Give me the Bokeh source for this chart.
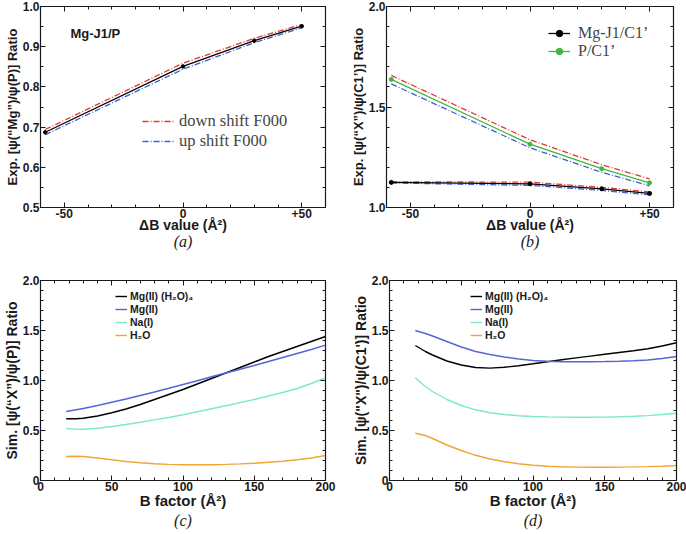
from bokeh.plotting import figure
from bokeh.models import (Range1d, FixedTicker, LinearAxis, Legend, LegendItem, Label, Title,
                          CustomJSTickFormatter)
from bokeh.layouts import column, row
from bokeh.embed import file_html
from bokeh.resources import INLINE

# ---------------- data ----------------
# (a) Mg-J1/P
dB = [-58, 0, 30, 50]
mgp = [0.687, 0.851, 0.915, 0.951]
mgp_down = [0.694, 0.859, 0.921, 0.955]
mgp_up = [0.681, 0.844, 0.910, 0.947]

# (b) X/C1'
mgc = [1.125, 1.118, 1.093, 1.070]
mgc_down = [1.128, 1.126, 1.100, 1.078]
mgc_up = [1.122, 1.110, 1.085, 1.063]
pc1 = [1.637, 1.315, 1.193, 1.123]
pc1_down = [1.657, 1.337, 1.213, 1.142]
pc1_up = [1.615, 1.297, 1.175, 1.108]

# (c), (d) simulations
bfac = [18, 25, 30, 40, 50, 60, 70, 80, 90, 100, 110, 120, 130, 140, 150, 160, 170, 180, 190, 200]
c_mgw = [0.617, 0.618, 0.622, 0.645, 0.677, 0.715, 0.760, 0.810, 0.860, 0.910, 0.965, 1.020,
         1.075, 1.130, 1.185, 1.240, 1.290, 1.340, 1.390, 1.440]
c_mg = [0.690, 0.708, 0.720, 0.750, 0.783, 0.815, 0.850, 0.885, 0.922, 0.960, 0.998, 1.037,
        1.075, 1.113, 1.150, 1.190, 1.230, 1.270, 1.310, 1.353]
c_na = [0.520, 0.514, 0.513, 0.522, 0.540, 0.560, 0.582, 0.606, 0.630, 0.657, 0.687, 0.717,
        0.748, 0.779, 0.810, 0.845, 0.880, 0.920, 0.970, 1.027]
c_w = [0.240, 0.243, 0.240, 0.225, 0.207, 0.190, 0.177, 0.167, 0.161, 0.158, 0.157, 0.158,
       0.161, 0.166, 0.173, 0.182, 0.193, 0.207, 0.225, 0.250]

d_mgw = [1.350, 1.290, 1.255, 1.195, 1.155, 1.130, 1.124, 1.132, 1.148, 1.167, 1.187, 1.207,
         1.226, 1.244, 1.262, 1.280, 1.298, 1.318, 1.345, 1.377]
d_mg = [1.500, 1.470, 1.445, 1.390, 1.335, 1.290, 1.260, 1.235, 1.215, 1.200, 1.192, 1.188,
        1.187, 1.188, 1.190, 1.193, 1.198, 1.205, 1.220, 1.240]
d_na = [1.027, 0.940, 0.890, 0.810, 0.750, 0.707, 0.678, 0.660, 0.648, 0.640, 0.636, 0.634,
        0.633, 0.633, 0.634, 0.637, 0.642, 0.649, 0.660, 0.673]
d_w = [0.473, 0.450, 0.420, 0.355, 0.300, 0.252, 0.215, 0.188, 0.167, 0.152, 0.143, 0.137,
       0.134, 0.133, 0.133, 0.134, 0.136, 0.139, 0.143, 0.150]

SANS = "Liberation Sans"
SERIF = "Liberation Serif"
RED = "#e23a2e"
BLUE = "#3d5fd6"
GREEN = "#3cb83c"
SLATE = "#5566d4"
AQUA = "#7debc0"
ORANGE = "#f2a437"
INK = "#1a1a1a"


def make_fig(width, height, xr, yr, mb):
    p = figure(width=width, height=height, output_backend="svg", toolbar_location=None,
               x_range=Range1d(*xr), y_range=Range1d(*yr),
               min_border_left=mb[0], min_border_right=mb[1],
               min_border_top=mb[2], min_border_bottom=mb[3])
    p.grid.visible = False
    p.outline_line_color = INK
    p.outline_line_width = 1.2
    p.background_fill_color = "white"
    p.border_fill_color = "white"
    return p


def mirror_axis(ticks, minor):
    return LinearAxis(ticker=FixedTicker(ticks=ticks, minor_ticks=minor),
                      formatter=CustomJSTickFormatter(code="return ''"),
                      major_tick_in=5, major_tick_out=0, minor_tick_in=3, minor_tick_out=0,
                      major_label_standoff=0, axis_line_color=INK,
                      major_tick_line_color=INK, minor_tick_line_color=INK)


def style_axes(p, xt, xminor, yt, yminor, xlab, ylab, xoverrides=None, yoverrides=None,
               xlab_size="13px", ylab_size="13px", xlab_standoff=-4):
    xa = p.xaxis[0]
    ya = p.yaxis[0]
    xa.ticker = FixedTicker(ticks=xt, minor_ticks=xminor)
    ya.ticker = FixedTicker(ticks=yt, minor_ticks=yminor)
    for a in (xa, ya):
        a.major_tick_in = 5
        a.major_tick_out = 0
        a.minor_tick_in = 3
        a.minor_tick_out = 0
        a.axis_line_color = INK
        a.major_tick_line_color = INK
        a.minor_tick_line_color = INK
        a.major_label_text_font = SANS
        a.major_label_text_font_style = "bold"
        a.major_label_text_font_size = "12px"
        a.major_label_text_color = INK
        a.axis_label_text_font = SANS
        a.axis_label_text_font_style = "bold"
        a.axis_label_text_color = INK
        a.major_label_standoff = 1
        a.axis_label_standoff = 0
    xa.axis_label_standoff = xlab_standoff
    xa.axis_label = xlab
    ya.axis_label = ylab
    xa.axis_label_text_font_size = xlab_size
    ya.axis_label_text_font_size = ylab_size
    if xoverrides:
        xa.major_label_overrides = xoverrides
    if yoverrides:
        ya.major_label_overrides = yoverrides
    p.add_layout(mirror_axis(xt, xminor), "above")
    p.add_layout(mirror_axis(yt, yminor), "right")


def caption(p, txt, standoff):
    p.add_layout(Title(text=txt, align="center", text_font=SERIF, text_font_style="italic",
                       text_font_size="16px", text_color=INK, standoff=standoff,
                       text_line_height=1.0), "below")


dBticks = [-50, 0, 50]
dBminor = list(range(-60, 61, 10))
dBover = {50: "+50", -50: "-50"}

# ---------------- (a) ----------------
pa = make_fig(343, 262, (-60, 60), (0.5, 1.0), (40, 18, 6, 55))
style_axes(pa, dBticks, dBminor, [0.5, 0.6, 0.7, 0.8, 0.9, 1.0],
           [0.5 + 0.05 * i for i in range(11)], "ΔB value (Å²)",
           "Exp. [ψ(“Mg”)/ψ(P)] Ratio", xoverrides=dBover,
           yoverrides={0.5: "0.5", 0.6: "0.6", 0.7: "0.7", 0.8: "0.8", 0.9: "0.9", 1.0: "1.0"},
           xlab_size="14px")
r_down = pa.line(dB, mgp_down, line_color=RED, line_dash="6 2 1 2", line_width=1.3)
r_up = pa.line(dB, mgp_up, line_color=BLUE, line_dash="6 2 1 2", line_width=1.3)
pa.line(dB, mgp, line_color="black", line_width=1.2)
pa.scatter(dB, mgp, size=3.5, color="black")
leg_a = Legend(items=[LegendItem(label="down shift F000", renderers=[r_down]),
                      LegendItem(label="up shift F000", renderers=[r_up])],
               location=(102, 56), label_text_font=SERIF, label_text_font_size="16.5px",
               glyph_width=33, glyph_height=18, label_height=18, spacing=0, padding=0,
               margin=0, border_line_color=None, background_fill_alpha=0,
               label_standoff=4)
pa.add_layout(leg_a, "center")
pa.add_layout(Label(x=-47.4, y=0.933, text="Mg-J1/P", text_font=SANS, text_font_style="bold",
                    text_font_size="13px", text_baseline="middle", text_color=INK))
caption(pa, "(a)", -9)

# ---------------- (b) ----------------
pb = make_fig(343, 262, (-60, 60), (1.0, 2.0), (43, 13, 6, 55))
style_axes(pb, dBticks, dBminor, [1.0, 1.5, 2.0], [1.0 + 0.1 * i for i in range(11)],
           "ΔB value (Å²)", "Exp. [ψ(“X”)/ψ(C1’)] Ratio", xoverrides=dBover,
           yoverrides={1.0: "1.0", 1.5: "1.5", 2.0: "2.0"}, xlab_size="14px")
for ys, c in ((mgc_down, RED), (mgc_up, BLUE), (pc1_down, RED), (pc1_up, BLUE)):
    pb.line(dB, ys, line_color=c, line_dash="6 2 1 2", line_width=1.3)
rb1 = pb.line(dB, mgc, line_color="black", line_width=1.3)
rb1s = pb.scatter(dB, mgc, size=4, color="black")
rb2 = pb.line(dB, pc1, line_color=GREEN, line_width=1.3)
rb2s = pb.scatter(dB, pc1, size=4, color=GREEN)
leg_b = Legend(items=[LegendItem(label="Mg-J1/C1’", renderers=[rb1, rb1s]),
                      LegendItem(label="P/C1’", renderers=[rb2, rb2s])],
               location=(162, 147), label_text_font=SERIF, label_text_font_size="16px",
               glyph_width=22, glyph_height=16, label_height=16, spacing=0, padding=0,
               margin=0, border_line_color=None, background_fill_alpha=0,
               label_standoff=8)
pb.add_layout(leg_b, "center")
caption(pb, "(b)", -9)

# ---------------- (c) ----------------
bticks = [0, 50, 100, 150, 200]
bminor = list(range(0, 201, 10))
yt2 = [0, 0.5, 1.0, 1.5, 2.0]
ym2 = [0.1 * i for i in range(21)]
yo2 = {0: "0", 0.5: "0.5", 1.0: "1.0", 1.5: "1.5", 2.0: "2.0"}

pc = make_fig(343, 272, (0, 200), (0, 2.0), (38, 18, 18, 54))
style_axes(pc, bticks, bminor, yt2, ym2, "B factor (Å²)", "Sim. [ψ(“X”)/ψ(P)] Ratio",
           yoverrides=yo2, xlab_size="15px", ylab_size="14px", xlab_standoff=-2)
rc = [pc.line(bfac, ys, line_color=c, line_width=1.4)
      for ys, c in ((c_mgw, "black"), (c_mg, SLATE), (c_na, AQUA), (c_w, ORANGE))]

pd = make_fig(343, 272, (0, 200), (0, 2.0), (46, 10, 18, 54))
style_axes(pd, bticks, bminor, yt2, ym2, "B factor (Å²)", "Sim. [ψ(\"X\")/ψ(C1')] Ratio",
           yoverrides=yo2, xlab_size="15px", ylab_size="14px", xlab_standoff=-2)
rd = [pd.line(bfac, ys, line_color=c, line_width=1.4)
      for ys, c in ((d_mgw, "black"), (d_mg, SLATE), (d_na, AQUA), (d_w, ORANGE))]

labels_sim = ["Mg(II) (H₂O)₄", "Mg(II)", "Na(I)", "H₂O"]
for p, rs, lx in ((pc, rc, 75), (pd, rd, 81)):
    lg = Legend(items=[LegendItem(label=l, renderers=[r]) for l, r in zip(labels_sim, rs)],
                location=(lx, 139), label_text_font=SANS, label_text_font_style="bold",
                label_text_font_size="10.5px", glyph_width=12, glyph_height=12,
                label_height=12, spacing=1, padding=0, margin=0, border_line_color=None,
                background_fill_alpha=0, label_standoff=3, label_text_color=INK)
    p.add_layout(lg, "center")

caption(pc, "(c)", -4)
caption(pd, "(d)", -4)

layout = column(row(pa, pb), row(pc, pd))
open("out.html", "w").write(file_html(layout, INLINE))
